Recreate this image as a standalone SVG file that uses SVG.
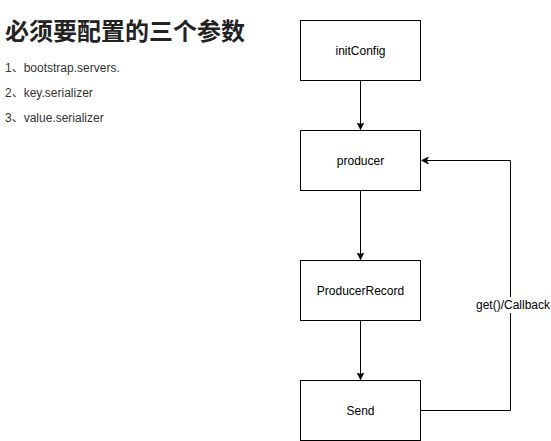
<svg xmlns="http://www.w3.org/2000/svg" width="551" height="441" viewBox="0 0 551 441">
<style>
.box{fill:#fff;stroke:#000;stroke-width:1}
.lbl{font-family:"Liberation Sans",Arial,sans-serif;font-size:12px;fill:#000;text-anchor:middle;dominant-baseline:central}
.edge{fill:none;stroke:#000;stroke-width:1}
.txt{font-family:"Liberation Sans",Arial,"Noto Sans CJK SC",sans-serif;font-size:12px;fill:#000}
.list{fill:#333}
</style>
<defs>
<marker id="arr" viewBox="0 0 10 10" refX="10" refY="5" markerWidth="7" markerHeight="7" markerUnits="userSpaceOnUse" orient="auto">
<path d="M0,0 L10,5 L0,10 L3,5 Z" fill="#000" stroke="#000" stroke-width="1"/>
</marker>
</defs>
<rect width="551" height="441" fill="#fff"/>
<g id="title">
<text x="5" y="40" style="font-family:'Noto Sans CJK SC','Liberation Sans',sans-serif;font-size:24px;font-weight:bold;fill:#222">必须要配置的三个参数</text>
<text class="txt list" x="5" y="72">1、bootstrap.servers.</text>
<text class="txt list" x="5" y="97">2、key.serializer</text>
<text class="txt list" x="5" y="122">3、value.serializer</text>
</g>
<g id="connectors">
<path class="edge" d="M360.5,80.5 V129.5" marker-end="url(#arr)"/>
<path class="edge" d="M360.5,190.5 V259.5" marker-end="url(#arr)"/>
<path class="edge" d="M360.5,320.5 V379.5" marker-end="url(#arr)"/>
<path class="edge" d="M420.5,410.5 H510.5 V160.5 H421.5" marker-end="url(#arr)"/>
<rect x="474" y="297" width="78" height="16" fill="#fff"/>
<text class="txt" x="513" y="309" text-anchor="middle">get()/Callback</text>
</g>
<g id="initConfig"><rect class="box" x="300.5" y="20.5" width="120" height="60"/><text class="lbl" x="360.5" y="50.5">initConfig</text></g>
<g id="producer"><rect class="box" x="300.5" y="130.5" width="120" height="60"/><text class="lbl" x="360.5" y="160.5">producer</text></g>
<g id="producerRecord"><rect class="box" x="300.5" y="260.5" width="120" height="60"/><text class="lbl" x="360.5" y="290.5">ProducerRecord</text></g>
<g id="send"><rect class="box" x="300.5" y="380.5" width="120" height="60"/><text class="lbl" x="360.5" y="410.5">Send</text></g>
</svg>
